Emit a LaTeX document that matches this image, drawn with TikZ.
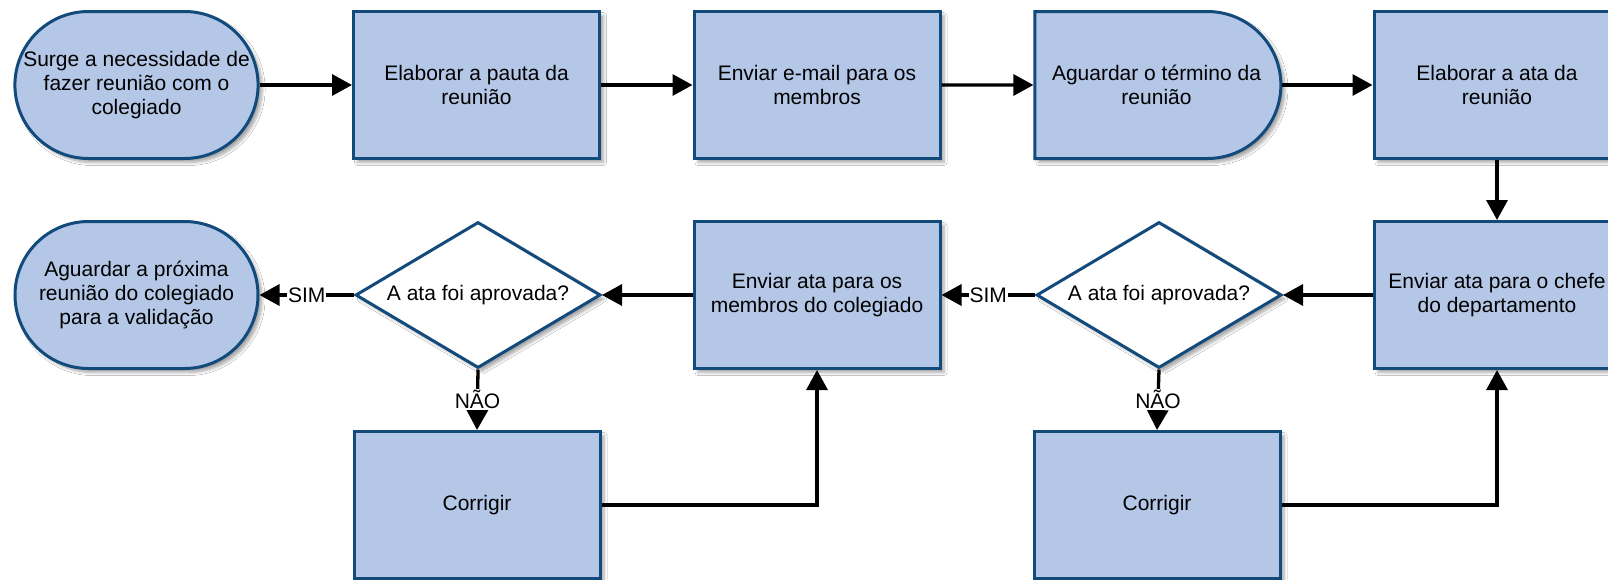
\documentclass[tikz,border=0pt]{standalone}
\usepackage{fontspec}
\setmainfont{Liberation Sans}
\usetikzlibrary{arrows.meta,shapes.geometric,shapes.misc,shadows.blur}
\definecolor{boxfill}{HTML}{B4C7E7}
\definecolor{boxline}{HTML}{134A7C}
\begin{document}
\begin{tikzpicture}[x=1pt,y=-1pt,
  every node/.style={font=\fontsize{21}{24.2}\selectfont, align=center, text=black},
  shadowed/.style={blur shadow={shadow xshift=4pt, shadow yshift=-4pt, shadow blur steps=6, shadow opacity=35, shadow blur radius=3pt}},
  proc/.style={draw=boxline, line width=3pt, fill=boxfill, minimum width=246pt, minimum height=147pt, inner sep=0pt, shadowed},
  term/.style={proc, rounded rectangle, minimum width=243pt},
  delay/.style={proc, rounded rectangle, rounded rectangle west arc=none},
  decision/.style={draw=boxline, line width=3pt, fill=white, diamond, minimum width=245pt, minimum height=146pt, inner sep=0pt, shadowed},
  conn/.style={line width=3.3pt, -{Triangle[length=20pt,width=21pt]}},
  lab/.style={fill=white, inner sep=1pt}
]
\clip (0,0) rectangle (1608,579);
\fill[white] (0,0) rectangle (1608,579);

% row 1
\node[term]  (t1) at (136.5,85) {Surge a necessidade de\\fazer reunião com o\\colegiado};
\node[proc]  (b2) at (476.5,85) {Elaborar a pauta da\\reunião};
\node[proc]  (b3) at (817,85) {Enviar e-mail para os\\membros};
\node[delay] (b4) at (1156.5,85) {Aguardar o término da\\reunião};
\node[proc]  (b5) at (1497,85) {Elaborar a ata da\\reunião};

% row 2
\node[proc]     (b6) at (1497,295) {Enviar ata para o chefe\\do departamento};
\node[decision] (d2) at (1159,295) {\makebox[0pt]{A ata foi aprovada?}};
\node[proc]     (b7) at (817,295) {Enviar ata para os\\membros do colegiado};
\node[decision] (d1) at (478,295) {\makebox[0pt]{A ata foi aprovada?}};
\node[term]     (t2) at (136.5,295) {Aguardar a próxima\\reunião do colegiado\\para a validação};

% row 3
\node[proc] (c1) at (477,505) {Corrigir};
\node[proc] (c2) at (1157,505) {Corrigir};

% connectors
\draw[conn] (t1) -- (b2);
\draw[conn] (b2) -- (b3);
\draw[conn] (b3) -- (b4);
\draw[conn] (b4) -- (b5);
\draw[conn] (b5) -- (b6);
\draw[conn] (b6) -- (d2.east);
\draw[conn] (d2.west) -- node[lab]{SIM} (b7.east);
\draw[conn] (d2.south) -- node[lab]{NÃO} (c2.north);
\draw[conn] (c2.east) -| (b6.south);
\draw[conn] (b7) -- (d1.east);
\draw[conn] (d1.west) -- node[lab]{SIM} (t2.east);
\draw[conn] (d1.south) -- node[lab]{NÃO} (c1.north);
\draw[conn] (c1.east) -| (b7.south);
\end{tikzpicture}
\end{document}
